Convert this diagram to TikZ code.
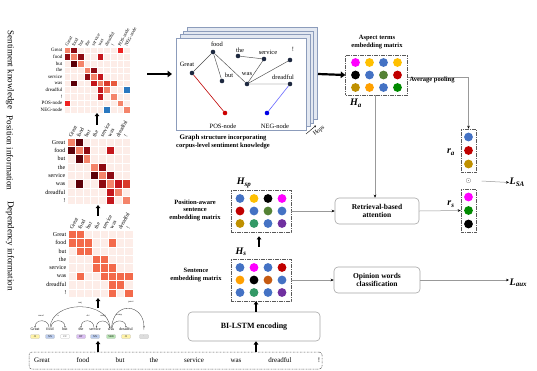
\documentclass[tikz,border=0pt]{standalone}
\usepackage{fontspec}
\setmainfont{Liberation Serif}
\usetikzlibrary{arrows.meta,calc}
\definecolor{mbg}{HTML}{FDEDE8}
\definecolor{sal}{HTML}{F4846A}
\definecolor{dkr}{HTML}{8E0A12}
\definecolor{mar}{HTML}{5C0008}
\definecolor{rdd}{HTML}{C4161C}
\definecolor{rd2}{HTML}{D93A2C}
\definecolor{rd3}{HTML}{E85A3E}
\definecolor{brt}{HTML}{EE2222}
\definecolor{nblu}{HTML}{2A78C0}
\definecolor{dep}{HTML}{F36A4B}
\definecolor{cmag}{HTML}{FF00FF}
\definecolor{cgold}{HTML}{FFC000}
\definecolor{cblue}{HTML}{4472C4}
\definecolor{colive}{HTML}{548235}
\definecolor{cdred}{HTML}{C00000}
\definecolor{cgldr}{HTML}{BF9000}
\definecolor{corng}{HTML}{FFA000}
\definecolor{cgreen}{HTML}{008A00}
\definecolor{cbrown}{HTML}{C55A11}
\definecolor{csea}{HTML}{339966}
\definecolor{cpurp}{HTML}{7030A0}
\definecolor{gnode}{HTML}{1E2940}
\definecolor{sheetf}{HTML}{E3E8F1}
\definecolor{sheetd}{HTML}{8C9CBB}
\definecolor{tJJ}{HTML}{FFF3A8}
\definecolor{tNN}{HTML}{BCCDEE}
\definecolor{tDT}{HTML}{D9BDF2}
\definecolor{tVB}{HTML}{B9E6B4}
\definecolor{tPU}{HTML}{DDDDDD}

\tikzset{
  thickarrow/.style={line width=1.5pt,-{Triangle[length=3.2pt,width=4.6pt]}},
  bigarrow/.style={line width=2.2pt,-{Triangle[length=4.5pt,width=6.5pt]}},
  thinarrow/.style={draw=gray!80,line width=0.5pt,-{Stealth[length=3pt,width=2.6pt,color=black]}},
  rowlab/.style={anchor=east,inner sep=0.5pt},
  collab/.style={anchor=west,rotate=62,inner sep=0pt},
  sidelab/.style={rotate=-90,font=\fontsize{9}{9}\selectfont},
  emb/.style={draw=gray!70!black,line width=0.5pt,dash pattern=on 1.5pt off 0.8pt on 0.4pt off 0.8pt,fill=white,inner sep=0pt},
  procbox/.style={draw=gray!70,line width=0.6pt,rounded corners=4pt,fill=white,align=center,font=\bfseries\fontsize{7.5}{8.5}\selectfont,inner sep=1pt},
  boldlab/.style={align=center,font=\bfseries\fontsize{6.5}{7.5}\selectfont,inner sep=0.5pt},
  gdot/.style={circle,fill=gnode,inner sep=0pt,minimum size=4.6pt},
  glab/.style={font=\fontsize{6.5}{6.5}\selectfont,inner sep=0.5pt},
  sym/.style={font=\bfseries\itshape\fontsize{10}{10}\selectfont,inner sep=0.5pt},
  gedge/.style={draw=gray!60!black,line width=0.45pt},
  sheet/.style={draw=sheetd,line width=0.6pt,fill=sheetf},
  dword/.style={font=\fontsize{4}{4}\selectfont,inner sep=0.3pt},
  dtag/.style={font=\fontsize{2.6}{2.6}\selectfont,inner sep=0pt,rounded corners=0.8pt,minimum width=9pt,minimum height=4pt,draw=gray!50,line width=0.2pt},
  darc/.style={draw=black!80,line width=0.3pt,-{Stealth[length=1.4pt,width=1.2pt]}},
  dlab/.style={font=\fontsize{2.3}{2.3}\selectfont,inner sep=0.2pt},
  sword/.style={font=\fontsize{7}{7}\selectfont,inner sep=0.5pt}
}

\newcommand\heatmat[8]{%
 \begin{scope}[shift={#1},every node/.append style={font=\fontsize{#7}{#7}\selectfont}]
 \fill[mbg] (0,0) rectangle (#4*#2,#4*#3);
 \foreach \hr/\hc/\hk in {#5} \fill[\hk] (\hc*#2,\hr*#3) rectangle ++(#2,#3);
 \foreach \hi in {0,...,#4} {\draw[white,line width=0.5pt] (\hi*#2,0) -- (\hi*#2,#4*#3); \draw[white,line width=0.5pt] (0,\hi*#3) -- (#4*#2,\hi*#3);}
 \foreach \hw [count=\hi from 0] in {#6} {\node[rowlab] at (-1,\hi*#3+#3/2) {\hw}; \node[collab,font=\fontsize{#8}{#8}\selectfont] at (\hi*#2+#2/2-1,-1) {\hw};}
 \end{scope}}

\newcommand\dotgrid[2]{\foreach \dcol [count=\di from 0] in {#2} {\pgfmathtruncatemacro\drr{\di/4}\pgfmathtruncatemacro\dci{mod(\di,4)}\fill[\dcol] ($(#1)+(-21+14*\dci,-12.5+12.5*\drr)$) circle (4.4);}}
\newcommand\dotcol[2]{\foreach \dcol [count=\di from 0] in {#2} {\fill[\dcol] ($(#1)+(0,-13.5+13.5*\di)$) circle (4.4);}}

\begin{document}
\begin{tikzpicture}[x=1pt,y=-1pt]
\useasboundingbox (0,0) rectangle (537,370);
\fill[white] (0,0) rectangle (537,370);

% side labels
\node[sidelab] (sl1) at (10,70) {Sentiment knowledge};
\node[sidelab] (sl2) at (10,153) {Position information};
\node[sidelab] (sl3) at (10,246) {Dependency information};

% matrices
\heatmat{(64,47)}{6.6}{6.6}{10}{0/0/sal,0/1/dkr,0/8/brt,1/0/dkr,1/1/sal,1/2/dkr,1/5/rdd,2/1/mar,2/2/sal,3/3/sal,3/4/dkr,4/3/dkr,4/4/sal,4/5/rdd,5/1/mar,5/4/rdd,5/5/sal,5/6/rd2,5/7/rd3,6/5/rdd,6/6/sal,6/9/nblu,7/5/rdd,7/7/sal,8/0/brt,8/8/sal,9/6/nblu,9/9/sal}{Great,food,but,the,service,was,dreadful,!,POS-node,NEG-node}{5}{4.6}
\heatmat{(67,138)}{7.9}{8.3}{8}{0/0/sal,0/1/mar,1/0/mar,1/1/sal,1/2/dkr,1/5/rdd,2/1/mar,2/2/sal,3/3/sal,3/4/dkr,4/3/mar,4/4/sal,4/5/dkr,5/1/mar,5/4/dkr,5/5/sal,5/6/rdd,5/7/rd2,6/5/rdd,6/6/sal,7/5/rdd,7/7/sal}{Great,food,but,the,service,was,dreadful,!}{6}{5.4}
\heatmat{(68,230)}{8.1}{8.4}{8}{0/0/dep,0/1/dep,1/0/dep,1/1/dep,1/2/dep,1/5/dep,2/1/dep,2/2/dep,3/3/dep,3/4/dep,4/3/dep,4/4/dep,4/5/dep,5/1/dep,5/4/dep,5/5/dep,5/6/dep,5/7/dep,6/5/dep,6/6/dep,7/5/dep,7/7/dep}{Great,food,but,the,service,was,dreadful,!}{6}{5.4}

\coordinate (a1s) at (97,125); \coordinate (a1e) at (97,113);
\coordinate (a2s) at (98,216); \coordinate (a2e) at (98,205);
\coordinate (a3s) at (98,308); \coordinate (a3e) at (98,298);
\draw[thickarrow] (a1s) -- (a1e);
\draw[thickarrow] (a2s) -- (a2e);
\draw[thickarrow] (a3s) -- (a3e);

% dependency parse
\foreach \w/\x/\t/\tc [count=\k] in {Great/35/JJ/tJJ,food/50/NN/tNN,but/65/CC/white,the/81/DT/tDT,service/95/NN/tNN,was/111/VBD/tVB,dreadful/126/JJ/tJJ,!/144/./tPU}{
  \node[dword] (dw\k) at (\x,329.5) {\w};
  \node[dtag,fill=\tc] (dt\k) at (\x,336.5) {\t};
}
\draw[darc] ([xshift=-1pt]dw2.north) .. controls +(0,-9) and +(0,-9) .. (dw1.north);
\draw[darc] ([xshift=1pt]dw2.north) .. controls +(0,-9) and +(0,-9) .. (dw3.north);
\draw[darc] (dw2.north) .. controls +(2,-28) and +(-2,-28) .. ([xshift=-1pt]dw6.north);
\draw[darc] ([xshift=-1pt]dw5.north) .. controls +(0,-9) and +(0,-9) .. (dw4.north);
\draw[darc] ([xshift=-1.5pt]dw6.north) .. controls +(0,-9) and +(0,-9) .. ([xshift=1.5pt]dw5.north);
\draw[darc] ([xshift=1pt]dw6.north) .. controls +(0,-9) and +(0,-9) .. (dw7.north);
\draw[darc] ([xshift=0.5pt]dw6.north) .. controls +(2,-28) and +(0,-24) .. (dw8.north);
\node[dlab] (l1) at (41,316) {amod};
\node[dlab] (l2) at (58,316) {cc};
\node[dlab] (l3) at (80,302.5) {conj};
\node[dlab] (l4) at (88,315.5) {det};
\node[dlab] (l5) at (103,315.5) {nsubj};
\node[dlab] (l6) at (119,315.5) {acomp};
\node[dlab] (l7) at (131,302.5) {punct};

% sentence box
\node[emb,rounded corners=3pt,minimum width=293pt,minimum height=17pt] (sent) at (175.5,360.5) {};
\foreach \w/\x in {Great/42,food/83,but/120,the/154,service/194,was/236,dreadful/280,!/319}
  \node[sword] at (\x,360.5) {\w};
\coordinate (a4s) at (98,352); \coordinate (a4e) at (98,341);
\draw[thickarrow] (a4s) -- (a4e);

% BI-LSTM
\node[procbox,minimum width=132pt,minimum height=29pt,font=\bfseries\fontsize{8}{8}\selectfont] (lstm) at (254,326.5) {BI-LSTM encoding};
\draw[thickarrow] (sent.north -| 256,0) -- (lstm.south -| 256,0);

% sentence embedding
\node[emb,minimum width=60pt,minimum height=42pt] (Hs) at (261,280) {};
\dotgrid{Hs}{cblue,cmag,cblue,cdred,corng,black,cbrown,cblue,cblue,csea,cblue,cpurp}
\draw[thickarrow] (lstm.north -| 256,0) -- (Hs.south -| 256,0);
\node[sym] (Hslab) at (241,252) {H\textsubscript{s}};
\node[boldlab] (Hstxt) at (196,275) {Sentence\\embedding matrix};

% position-aware embedding
\node[emb,minimum width=60pt,minimum height=42pt] (Hsp) at (261,211) {};
\dotgrid{Hsp}{cblue,cgold,black,cmag,cdred,cblue,colive,cblue,cgldr,csea,cblue,cpurp}
\node[sym] (Hsplab) at (244,183) {H\textsubscript{sp}};
\node[boldlab] (Hsptxt) at (195,210) {Position-aware\\sentence\\embedding matrix};
\draw[thickarrow] ([shift={(-2,-12)}]Hs.north) -- ([shift={(-2,4)}]Hsp.south);

% graph stack
\foreach \k in {3,2,1} \draw[sheet] (176+3.8*\k,38-3.6*\k) rectangle (306+3.8*\k,130-3.6*\k);
\node[draw=sheetd,line width=0.6pt,fill=white,minimum width=130pt,minimum height=92pt,inner sep=0pt] (sheet) at (241,84) {};
\node[gdot] (gGreat) at (192,73) {};
\node[gdot] (gfood) at (213,52) {};
\node[gdot] (gthe) at (238,56) {};
\node[gdot] (gserv) at (264,59) {};
\node[gdot] (gexcl) at (290,60) {};
\node[gdot] (gbut) at (222,81) {};
\node[gdot] (gwas) at (247,84) {};
\node[gdot] (gdread) at (290,84) {};
\node[gdot,fill=red!80!black] (gpos) at (225,113) {};
\node[gdot,fill=blue!90!black] (gneg) at (267,113) {};
\draw[gedge] (gGreat) -- (gfood) -- (gbut);
\draw[gedge] (gfood) -- (gwas);
\draw[gedge] (gthe) -- (gserv) -- (gwas);
\draw[gedge] (gexcl) -- (gwas) -- (gdread);
\draw[red!75!black,line width=0.6pt] (gGreat) -- (gpos);
\draw[blue!60,line width=0.6pt] (gdread) -- (gneg);
\node[glab] (tGreat) at (187,64) {Great};
\node[glab] (tfood) at (217,44) {food};
\node[glab] (tthe) at (240,50.5) {the};
\node[glab] (tserv) at (268,52.5) {service};
\node[glab] (texcl) at (293,49) {!};
\node[glab] (tbut) at (229,75.5) {but};
\node[glab] (twas) at (247,74) {was};
\node[glab] (tdread) at (283,77) {dreadful};
\node[glab] (tpos) at (223,126) {POS-node};
\node[glab] (tneg) at (275,126) {NEG-node};
\node[boldlab] (gcap) at (223,142) {{\fontsize{7}{7.5}\selectfont Graph} structure incorporating\\corpus-level sentiment knowledge};
\coordinate (hopS) at (306,134); \coordinate (hopE) at (316,125.5);
\draw[line width=0.4pt,-{Stealth[length=2pt,width=2pt]}] (hopS) -- (hopE);
\node[font=\fontsize{6}{6}\selectfont,rotate=38,inner sep=0.3pt] (hops) at (319,131) {Hops};
\coordinate (g1s) at (147,74); \coordinate (g1e) at (172,74);
\draw[bigarrow] (g1s) -- (g1e);

% aspect embedding
\node[emb,minimum width=62pt,minimum height=40pt] (Ha) at (376.5,75) {};
\dotgrid{Ha}{cmag,cgold,cblue,cgold,black,cblue,colive,cdred,cgldr,corng,cblue,cgreen}
\node[boldlab] (Hatxt) at (377,42) {Aspect terms\\embedding matrix};
\node[sym] (Halab) at (356,103.5) {H\textsubscript{a}};
\coordinate (g2s) at (318,74);
\draw[bigarrow] (g2s) -- (Ha.west);

% r_a, r_s
\node[emb,minimum width=15pt,minimum height=43pt] (ra) at (468.5,150.5) {};
\dotcol{ra}{cblue,cdred,cgldr}
\node[sym] (ralab) at (451,152) {r\textsubscript{a}};
\node[emb,minimum width=15pt,minimum height=43pt] (rs) at (468.5,210.5) {};
\dotcol{rs}{cmag,cgreen,black}
\node[sym] (rslab) at (451,204) {r\textsubscript{s}};
\node[inner sep=0pt,font=\fontsize{6}{6}\selectfont] (odot) at (468.5,181) {$\odot$};
\node[sym,anchor=west] (LSA) at (509,182.5) {L\textsubscript{SA}};
\draw[thinarrow] ([xshift=10pt]odot.east) -- (LSA.west);
\draw[thinarrow] ([yshift=-2pt]Ha.east) -| (ra.north);
\node[boldlab,anchor=west] (avg) at (409,80) {Average pooling};

% attention
\node[procbox,minimum width=84pt,minimum height=26pt] (ret) at (377,211) {Retrieval-based\\attention};
\draw[thinarrow] (Ha.south -| 375,0) -- (ret.north -| 375,0);
\draw[thinarrow] (Hsp.east) -- (ret.west);
\draw[thinarrow] (ret.east) -- (rs.west);

% opinion words
\node[procbox,minimum width=86pt,minimum height=26pt] (opin) at (377,280) {Opinion words\\classification};
\draw[thinarrow] (Hs.east) -- (opin.west);
\node[sym,anchor=west] (Laux) at (509,283) {L\textsubscript{aux}};
\draw[thinarrow] (opin.east) -- (Laux.west |- opin.east);
\end{tikzpicture}
\end{document}
